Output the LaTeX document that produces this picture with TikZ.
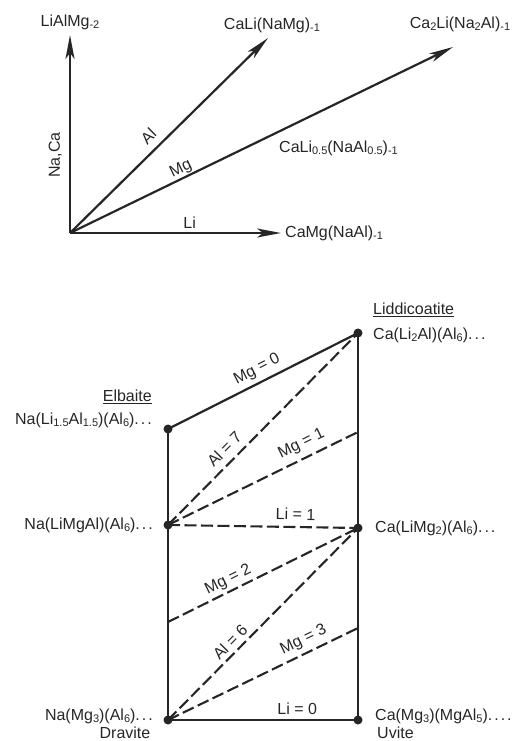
\documentclass[tikz,border=0pt]{standalone}
\usepackage{fontspec}
\setmainfont{Liberation Sans}
\usetikzlibrary{arrows.meta}
\definecolor{ink}{HTML}{262626}
\newcommand\sbx[1]{\raisebox{-2.6pt}{\fontsize{11}{11}\selectfont #1}}
\newcommand\dts{.\kern2pt.\kern2pt.}
\begin{document}
\begin{tikzpicture}[x=1pt,y=-1pt,font=\fontsize{16}{19}\selectfont,
  solidln/.style={draw=ink,line width=2.2pt},
  dashln/.style={draw=ink,line width=2.1pt,dash pattern=on 12pt off 4.5pt},
  vec/.style={draw=ink,line width=2.2pt,-{Stealth[length=24pt,width=9pt,inset=6pt]}},
  dotnode/.style={circle,fill=ink,inner sep=0pt,minimum size=9pt},
  lbl/.style={sloped,text depth=0pt,inner sep=0pt,text=ink},
  txt/.style={inner sep=0pt,text=ink}]
\useasboundingbox (0,0) rectangle (514,741);
% ---------- top vector diagram ----------
\coordinate (O) at (70,233);
\coordinate (tU) at (70,35);
\coordinate (tA) at (268,38);
\coordinate (tM) at (453,47);
\coordinate (tL) at (281,233);
\draw[vec] (O) -- node[lbl,pos=0.394,above=9pt] {Na,Ca} (tU);
\draw[vec] (O) -- node[lbl,pos=0.445,above=7pt] {Al} (tA);
\draw[vec] (O) -- node[lbl,pos=0.30,above=4pt] {Mg} (tM);
\draw[vec] (O) -- node[lbl,pos=0.567,above=3pt] {Li} (tL);
\node[txt] (lam) at (70,22) {LiAlMg\sbx{-2}};
\node[txt] (cln) at (272,25) {CaLi(NaMg)\sbx{-1}};
\node[txt] (cl2) at (460,24) {Ca\sbx{2}Li(Na\sbx{2}Al)\sbx{-1}};
\node[txt,anchor=west] (clh) at (279,148) {CaLi\sbx{0.5}(NaAl\sbx{0.5})\sbx{-1}};
\node[txt,anchor=west] (cmg) at (285,233) {CaMg(NaAl)\sbx{-1}};
% ---------- bottom composition diagram ----------
\node[dotnode] (E) at (168,429) {};
\node[dotnode] (L) at (358,333) {};
\node[dotnode] (N) at (168,525) {};
\node[dotnode] (C) at (358,528) {};
\node[dotnode] (D) at (168,720) {};
\node[dotnode] (U) at (358,720) {};
\coordinate (R1) at (358,432);
\coordinate (M2) at (168,622);
\coordinate (R3) at (358,628);
\draw[solidln] (E.center) -- (D.center);
\draw[solidln] (L.center) -- (U.center);
\draw[solidln] (E.center) -- node[lbl,pos=0.50,above=8pt] {Mg = 0} (L.center);
\draw[solidln] (D.center) -- node[lbl,pos=0.68,above=4pt] {Li = 0} (U.center);
\draw[dashln] (N.center) -- node[lbl,pos=0.346,above=6.5pt] {Al = 7} (L.center);
\draw[dashln] (N.center) -- node[lbl,pos=0.735,above=9pt] {Mg = 1} (R1);
\draw[dashln] (N.center) -- node[lbl,pos=0.67,above=6pt] {Li = 1} (C.center);
\draw[dashln] (M2) -- node[lbl,pos=0.343,above=6pt] {Mg = 2} (C.center);
\draw[dashln] (D.center) -- node[lbl,pos=0.367,above=4pt] {Al = 6} (C.center);
\draw[dashln] (D.center) -- node[lbl,pos=0.743,above=8pt] {Mg = 3} (R3);
\node[txt,anchor=east] (elb) at (152,397) {\underline{Elbaite}};
\node[txt,anchor=east] (elbf) at (152,420) {Na(Li\sbx{1.5}Al\sbx{1.5})(Al\sbx{6})\dts};
\node[txt,anchor=west] (lid) at (373,310) {\underline{Liddicoatite}};
\node[txt,anchor=west] (lidf) at (373,335) {Ca(Li\sbx{2}Al)(Al\sbx{6})\dts};
\node[txt,anchor=east] (nf) at (153,525) {Na(LiMgAl)(Al\sbx{6})\dts};
\node[txt,anchor=west] (cf) at (375,528) {Ca(LiMg\sbx{2})(Al\sbx{6})\dts};
\node[txt,anchor=east] (drf) at (153,716) {Na(Mg\sbx{3})(Al\sbx{6})\dts};
\node[txt] (dra) at (125,733) {Dravite};
\node[txt,anchor=west] (uvf) at (375,716) {Ca(Mg\sbx{3})(MgAl\sbx{5})\dts\kern2pt.};
\node[txt,anchor=west] (uva) at (377,733) {Uvite};
\end{tikzpicture}
\end{document}
